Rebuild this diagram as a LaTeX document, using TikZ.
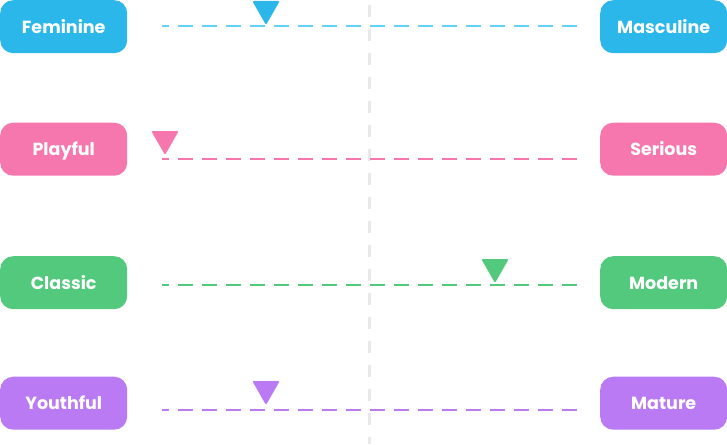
\documentclass[tikz,border=0pt]{standalone}
\usepackage{fontspec}
\setmainfont{Poppins}
\definecolor{cblue}{HTML}{2BB7EA}
\definecolor{lblue}{HTML}{62D2FA}
\definecolor{cpink}{HTML}{F676AE}
\definecolor{cgreen}{HTML}{52C97C}
\definecolor{cpurple}{HTML}{B97AF3}
\definecolor{cgrey}{HTML}{E9E9EB}
\tikzset{
  pill/.style={fill=#1,draw=none,rounded corners=13pt,minimum width=127pt,minimum height=53pt,inner sep=0pt,text=white,font=\fontsize{17.5}{20}\selectfont\bfseries,text height=15pt,text depth=2pt,anchor=north west},
  scale line/.style={draw=#1,line width=2pt,dash pattern=on 15pt off 9pt,dash phase=8pt},
  axis line/.style={draw=cgrey,line width=2.5pt,dash pattern=on 12pt off 12pt},
  marker/.style={fill=#1,draw=#1,line width=2pt,line join=round}
}
\begin{document}
\begin{tikzpicture}[x=1pt,y=-1pt]
\useasboundingbox (0,0) rectangle (727,444);
\coordinate (axt) at (369.5,5);
\coordinate (axb) at (369.5,444);
\draw[axis line] (axt) -- (axb);
\node[pill=cblue] (f) at (0,0) {Feminine};
\node[pill=cblue] (m) at (600,0) {Masculine};
\node[pill=cpink] (p) at (0,122.5) {Playful};
\node[pill=cpink] (s) at (600,122.5) {Serious};
\node[pill=cgreen] (c) at (0,256) {Classic};
\node[pill=cgreen] (o) at (600,256) {Modern};
\node[pill=cpurple] (y) at (0,376.5) {Youthful};
\node[pill=cpurple] (a) at (600,376.5) {Mature};
\coordinate (f1) at (162,26.5); \coordinate (f2) at (577,26.5);
\coordinate (p1) at (162,158.5); \coordinate (p2) at (577,158.5);
\coordinate (c1) at (162,284.5); \coordinate (c2) at (577,284.5);
\coordinate (y1) at (162,409.5); \coordinate (y2) at (577,409.5);
\draw[scale line=lblue] (f1) -- (f2);
\draw[scale line=cpink] (p1) -- (p2);
\draw[scale line=cgreen] (c1) -- (c2);
\draw[scale line=cpurple] (y1) -- (y2);
\draw[marker=cblue] (254,2) -- (278,2) -- (266,23) -- cycle;
\draw[marker=cpink] (153,132) -- (177,132) -- (165,153) -- cycle;
\draw[marker=cgreen] (483,260) -- (507,260) -- (495,281) -- cycle;
\draw[marker=cpurple] (254,382) -- (278,382) -- (266,403) -- cycle;
\end{tikzpicture}
\end{document}
